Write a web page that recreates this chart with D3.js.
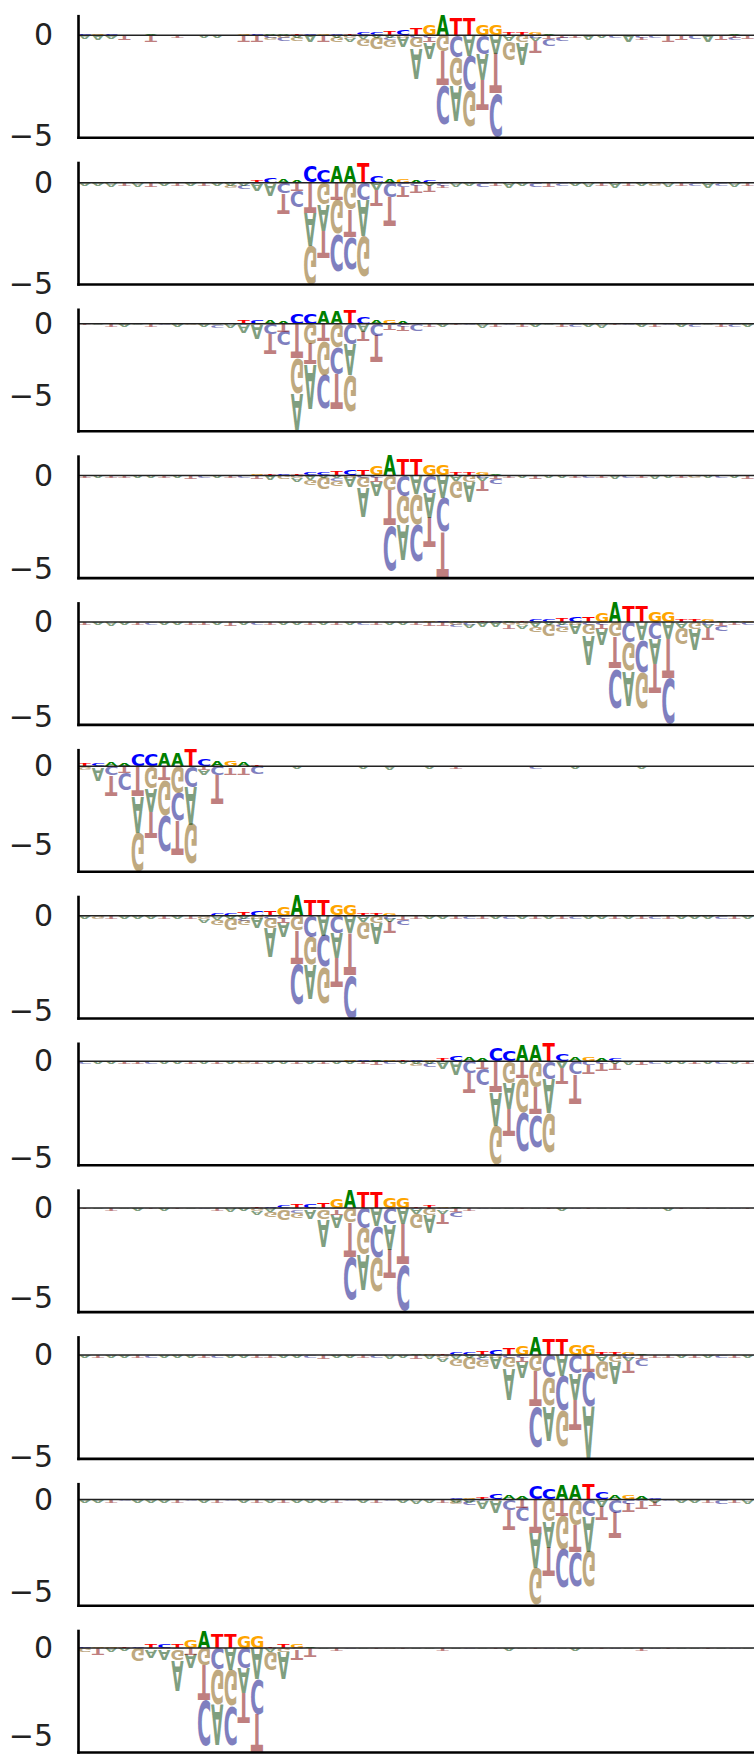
<!DOCTYPE html>
<html><head><meta charset="utf-8">
<script src="https://cdn.jsdelivr.net/npm/d3@7"></script>
<style>body{margin:0;background:#fff}svg{display:block}</style>
</head><body>
<script>
// Each column: uppercase letter = positive value, lowercase = negative value, in hundredths.
const logo01 = [
"C3a20","G3a25","C3a15t5","G2t25","C2a5","A3t30","G2a5","C2t15","G2a5","C2a10",
"T2a15","C2a5","G3t30","C3t30","A5g15c10","A5c20g10","T3g20a10","C5a30","G5t30","C5a10g25",
"T8a20g15","C10g30a20","C12a10g60","T20c15g30a10","C25g10a50","T30c10g55a150","G50c10t25a75","A97g80t170c195","T85c110g140a175","T85a100c175g180",
"G56c90a130t150","G56a90t200c215","T10c5a25g90","T15g35a110","G10c10a20t60","A8t20c30",
"A2c20t10","G2t10","C2a25","T2a10","G2c15","T2a30","A2t15c10","G2c15","C2t30","A2t25","G2c20","T2a30","C2t25","A3c10t10","G2t20"];
const logo02 = [
"T2a10","C2a15","G3a20","A2t10","C3a20","G2t20","T3a15","C2t10","G2a10","A2t15",
"C3a10","C5g15a10","G5c20a10","T15c5a35","C25g5a60","A20c55t100","A10t40c80","C77t150a160g193","C60g110a130t140","A80t85g170c190",
"A80g135t140c160","T100c85a180g200","C36a35t75","A20c70t145","G20c20t50","A15c10t40","C10t30a10",
"G2t10c10","C2a20","T2a15","A2c20","G2t10","C2a25","T2a10","G2c20","C2t20","A2c10","G3a15","T2a20","C2t15","G2a25","A2t10","C2a10","T2g10","G2a20","C2t10","A2c15","T2a25","G2c10","C2a20","A2t15"];
const logo03 = [
"A2t10","C2a10","G2t15","T2a20","C2a10","G2t15","A2c10","T2a15","C2g10","G3a20",
"G5c15a10","C8a25","T30c10a50","C25g10a100","A30c70t140","A20t50c100","C77t240g245a255","C77g135t145a310","A88t120g230c235","A88g165c185t250",
"T100c140a220g250","C42a50t70","A30c80t190","G30t40c10","A20t40c15","T10c50",
"A3t20","C2a15","G2t10","T2c10","G3a25","C2t15","A2c10","G2t20","T2a20","C2a10","A2t15","G2c20","T2a15","C2a25","A2t10","G2c10","T2a20","C2t15","A2c10","G2a20","T2c15","C2a10","A2t20","G2c15","C2a20"];
const logo04 = [
"A2t15","G2a15","C2t10","A2t10","C2a10","T2a10","G2t15","C2a10","A2t20","T2c10",
"G2a10","C2t15","A2c10","G3t20","T3a25","C3g20",
"T8a20g15","C10g25a25","C12a10g65","T20c15g30a15",
"C25g10a55","T30c10g55a155","G50c10t25a80","A103g80t190c240","T85c110g150a190","T85a100g160c200","G56c90a130t160","G56a120c180t245","T10c5a25g95","T15g35a105",
"G10c10a20t55","A8t20c25",
"A2t15","C2a10","G2t20","T2a10","C2a15","A2t10","G2c15","C2t15","T2a20","A2c10","G2t10","C2a20","T2a15","A2t15","C2g10","G2a15","T2c10","C2a10","A2t20"];
const logo05 = [
"A2t10","C2a15","G2a20","T2a15","C2t10","A2c10","G2a15","T2a10","C2t15","A2t10",
"G2a10","C2t20","T2a10","A2c10","G2t15","C2a10","T2a15","A2t10","G2a10","C2t10",
"T2a10","A2c15","G2t10","C2a10","T2a10","A2t10","G3t20","C3t20","A3c15g10","G3c10a20",
"T3a25","C5a30","A5t20g15",
"T8a20g15","C10g30a25","C12a10g65","T20c15g30a10","C25g10a55","T30c10g60a150","G50c10t25a80",
"A101g80t170c210","T85c110g150a180","T85a100c170g190","G56c90a130t150","G56a90t210c242","T10c5a25g85","T15g35a110","G10c10a20t60","A8t20c30",
"A5t15","G3c10"];
const logo06 = [
"T15g20a5","C20g10a85","A25c60t125","A15t40c110","C73t190a230g245","C73g140a150t170","A84t90g220c230","A84g170c180t220","T105c125a240g255","C40a30t25",
"A30c55t185","G30t40c10","A20t40c10","T10c50",
"A2t10","G2a10","C2a15","T2a10","G2c10","A2t10","C2a10","T2a15","G2t10","C2a20",
"A2c10","T2a10","G2a15","C2t10","A2t15","T2c10","G2a10","C2a10","A2t10","T2a10",
"G2c15","C2a10","A2t10","G2a15","T2a10","C2t10","A2c10","G2a10","T2a15","C2t10",
"A2g10","G2t10","C2a10","T2a10","A2c10","G2a10","C2t10"];
const logo07 = [
"T2a10","C2g10","A2t15","G2a15","C2a10","T2a15","G2t10","C2a15","A2t10",
"T8a20g15","C10g30a20","C12a10g60","T20c15g30a10","C25g10a55","T30c10g55a150","G50c10t25a75","A100g80t175c215","T85c110g145a180","T85a100c170g190",
"G56c90a130t150","G56a90t220c225","T10c5a25g90","T15g35a110","G10c10a20t60","A8t20c30",
"G3t15","C2a10","T2a10","A2t10","G2c10","C2t10","T2a10","A2c10","G2a10","C2t10","T2a10","A2t10","G2c10","C2a10","T2a15","A2t10","G2a10","C2t10","T2c10","A2t10","G2a10","C2a15","T2a10","A2c10","G2t10","C2a10"];
const logo08 = [
"A2c10","T2a10","G2a15","C2t10","A2t10","G2c10","T2a15","C2a10","A2t15","G2a10",
"C2t10","T2a10","A2g10","G2t10","C2a15","T2a10","A2t10","G2a10","C2t15","T2a10",
"G3a15","C3t15","A3t20","G3c10","T3a15",
"C5g15a10","G5c20a10","T15c5a35","C25g5a65","A20c60t105","A10t40c80","C72t160a170g205","C58g110a135t145","A78t90g175c200","A78g135t145c165",
"T93c90a180g205","C35a35t80","A20c70t150","G20c20t50","A15c10t40","C10t30a10",
"C2a20","A2t20","G2c10","T2a10","C2a15","A2t10","G2a10","T2c10","C2a15","A2t15"];
const logo09 = [
"A2t10","C2a10","G2t15","T2a10","C2a15","A2t10","G2a15","C2t10","T2a10","A2c10",
"G2t15","C2a20","T2a15",
"T8a20g15","C10g30a20","C12a10g60","T20c15g30a10","C25g10a50","T30c10g55a150","G50c10t25a75",
"A100g80t190c240","T85c110g150a195","T85a100c175g190","G56c90a135t160","G56a90t230c255","T10c5a25g85","T15g35a105","G10c10a20t55","A8t20c30",
"A2t15","G2c10","C2a10","T2a10","A2t10","G2a10","C2t10","T2a15","A2c10","G2t10","C2a10","T2a10","A2t10","G2c10","C2a10","T2a15","A2t10","G2a10","C2t10","T2a10","A2c10","G2t10"];
const logo10 = [
"C2a10","A2t10","G2a15","T2a10","C2t10","A2c10","G2a10","T2a15","C2a10","A2t10",
"G2c10","T2a10","C2a10","A2t10","G2t10","C2a10","T2a15","A2c10","G2t20","C2a15",
"T2a10","A2t15","G2c15","C2a20","T2a15","A3t20","G3a20",
"T8a20g15","C10g30a20","C12a10g60",
"T20c15g30a10","C25g10a55","T30c10g55a155","G45c10t25a75","A88g80t175c195","T78c110g140a170","T78a100c170g180","G50c90a130t150","G50t80c170a255","T10c5a25g90",
"T15g35a110","G10c10a20t60","A8t20c30",
"C2t15","A2t10","G2a10","C2t10","T2a15","A2c10","G2t10","C2a10"];
const logo11 = [
"T2a10","C2a10","G2t10","A2c10","T2a15","C2a10","G2a10","A2t10","T2c10","C2a10",
"G2t15","A2c10","T2a10","C2t10","G2a10","A2t10","T2a10","C2a15","G2a10","A2t15",
"T2c10","C2a15","G2t10","A2c10","T2a15","C2a20","G3a15","A3t15",
"C5g15a10","G5c20a10",
"T15c5a40","C25g5a65","A20c55t105","A10t40c80","C70t180a190g205","C55g120a140t160","A75t85g180c210","A75g140t150c185","T86c90a190g200","C35a35t75",
"A20c70t145","G20c20t50","A15c10t40","C10t30a10",
"G2c10","C2a10","T2a15","A2t10","G2c20","C2t15","T2a20"];
const logo12 = [
"C3g25","G10t35","G8a20","T3a15","C5g80","T25a45c10","C20g10a60","T25c10g65a170","G45t35a80","A100g100t200c265",
"T85c125g200a230","T85a125g210c225","G68c115a140t175","G68a180c200t215","T5a20g110","T25g20a160","G20c10t60","A10t50",
"C2a10","A2t15","G2c10","T2a10","C2t10","A2g10","G2t10","T2a10","C2a10","A2t15",
"G2a10","T2c10","C2a10","A2t10","G2a15","T2a10","C2t10","A2c10","G2a10","T2a15",
"C2a10","A2t10","G2c10","T2a10","C2t15","A2c10","G2t10","T2a10","C2a10","A2t10",
"G2a10","T2c10","C2a10"];

const yTickValues = [0, -5];
const yTickLabels = ["0", "\u22125"];
const bases = ["A", "C", "G", "T"];
const baseColors = ["#008000", "#0000ff", "#ffa500", "#ff0000"];
const baseShaded = ["#004000", "#000080", "#805300", "#800000"];

const allLogos = [logo01, logo02, logo03, logo04, logo05, logo06, logo07, logo08, logo09, logo10, logo11, logo12];

// layout
const W = 754, H = 1754;
const axisX = 78, panelTop0 = 15.7, panelStride = 146.8, panelH = 121.5;
const glyphHalf = 0.465;

function parseCol(s) {
  const out = [];
  const re = /([ACGTacgt])(\d+)/g;
  let m;
  while ((m = re.exec(s)) !== null) {
    const up = m[1].toUpperCase();
    const v = +m[2] / 100;
    out.push({ch: up, v: (m[1] === up ? v : -v)});
  }
  return out;
}

// tight glyph metrics
const ctx = document.createElement("canvas").getContext("2d");
ctx.font = 'bold 100px "DejaVu Sans"';
const met = {};
bases.forEach(ch => {
  const m = ctx.measureText(ch);
  met[ch] = {l: m.actualBoundingBoxLeft, r: m.actualBoundingBoxRight, a: m.actualBoundingBoxAscent, d: m.actualBoundingBoxDescent};
});

const colorPos = d3.scaleOrdinal().domain(bases).range(baseColors);
const colorNeg = d3.scaleOrdinal().domain(bases).range(baseShaded);

const svg = d3.select("body").append("svg").attr("width", W).attr("height", H);
const x = d3.scaleLinear().domain([-0.5, 50.48]).range([axisX, W]);

allLogos.forEach((cols, k) => {
  const parsed = cols.map(parseCol);
  const ymin = d3.min(parsed, c => d3.sum(c.filter(e => e.v < 0), e => e.v));
  const ymax = d3.max(parsed, c => d3.sum(c.filter(e => e.v > 0), e => e.v));
  const top = panelTop0 + k * panelStride;
  const y = d3.scaleLinear().domain([ymin, ymax]).range([top + panelH, top]);

  const glyphs = [];
  parsed.forEach((c, i) => {
    const sorted = c.slice().sort((a, b) => a.v - b.v);
    let floor = d3.sum(sorted.filter(e => e.v < 0), e => e.v);
    sorted.forEach(e => {
      const lo = floor, hi = floor + Math.abs(e.v);
      floor = hi;
      glyphs.push({ch: e.ch, neg: e.v < 0, x0: x(i - glyphHalf), x1: x(i + glyphHalf), yt: y(hi), yb: y(lo)});
    });
  });

  const g = svg.append("g");
  g.selectAll("text.glyph")
    .data(glyphs.filter(d => d.yb - d.yt > 0.4))
    .join("text")
    .attr("class", "glyph")
    .attr("font-family", "DejaVu Sans")
    .attr("font-weight", "bold")
    .attr("font-size", 100)
    .attr("fill", d => d.neg ? colorNeg(d.ch) : colorPos(d.ch))
    .attr("fill-opacity", d => d.neg ? 0.5 : 1)
    .attr("transform", d => {
      const m = met[d.ch];
      const sx = (d.x1 - d.x0) / (m.l + m.r);
      const sy = (d.yb - d.yt) / (m.a + m.d);
      const tx = d.x0 + m.l * sx;
      return d.neg
        ? `translate(${tx},${d.yb - m.a * sy}) scale(${sx},${-sy})`
        : `translate(${tx},${d.yt + m.a * sy}) scale(${sx},${sy})`;
    })
    .text(d => d.ch);

  // baseline at zero
  g.append("line")
    .attr("x1", axisX).attr("x2", W)
    .attr("y1", y(0)).attr("y2", y(0))
    .attr("stroke", "#222").attr("stroke-width", 1.5);

  // y axis
  const ya = g.append("g").attr("transform", `translate(${axisX},0)`)
    .call(d3.axisLeft(y).tickValues(yTickValues)
      .tickFormat((d, i) => yTickLabels[i]).tickSize(0).tickSizeOuter(0).tickPadding(25));
  ya.select(".domain").attr("stroke", "#000").attr("stroke-width", 2.6).attr("stroke-linecap", "square");
  ya.selectAll("text").attr("font-family", "DejaVu Sans").attr("font-size", 30).attr("fill", "#222");

  // bottom spine
  const xa = g.append("g").attr("transform", `translate(0,${y(ymin)})`)
    .call(d3.axisBottom(x).tickValues([]).tickSizeOuter(0));
  xa.select(".domain").attr("stroke", "#000").attr("stroke-width", 2.6).attr("stroke-linecap", "square");
});
</script>
</body></html>
